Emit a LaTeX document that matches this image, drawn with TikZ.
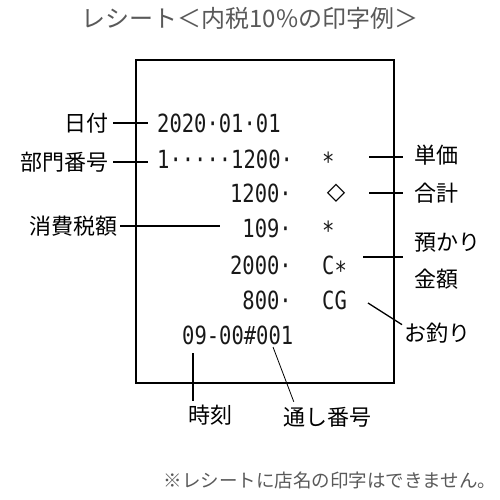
\documentclass[tikz,border=0pt]{standalone}
\usepackage{fontspec}
\usepackage{graphicx}
\setmainfont{Noto Sans CJK JP}
\newfontfamily\rcptfont{DejaVu Sans Mono}
\newfontfamily\symfont{DejaVu Sans}
\newcommand{\rc}[1]{\scalebox{0.82}[1]{#1}}

\begin{document}
\begin{tikzpicture}[x=1pt, y=-1pt,
  lbl/.style = {font=\fontsize{22}{26}\selectfont, inner sep=0pt},
  rtxt/.style = {font=\rcptfont\fontsize{25}{25}\selectfont, inner sep=0pt, text=black!90},
  lead/.style = {line width=1.3pt}]
\useasboundingbox (0,0) rectangle (500,500);

% Title
\node[font=\fontsize{24}{28}\selectfont, text=black!65] (title) at (250,18) {レシート＜内税10\%の印字例＞};

% Receipt
\draw[line width=1.7pt] (136,60) rectangle (394,383);

% Printed lines
\node[rtxt, anchor=west] (date) at (157,123) {\rc{2020·01·01}};
\node[rtxt, anchor=west] (dept) at (157,159) {\rc{1·····1200·}};
\node[rtxt, anchor=east] (sub)  at (292,193) {\rc{1200·}};
\node[rtxt, anchor=east] (tax)  at (292,228) {\rc{109·}};
\node[rtxt, anchor=east] (paid) at (292,265) {\rc{2000·}};
\node[rtxt, anchor=east] (chg)  at (292,300) {\rc{800·}};
\node[rtxt, anchor=west] (time) at (182,335) {\rc{09-00\#001}};

\node[rtxt, anchor=west] (ast1) at (322,159) {\rc{∗}};
\node[font=\symfont\fontsize{24}{24}\selectfont, inner sep=0pt] (dia) at (336,193) {◇};
\node[rtxt, anchor=west] (ast2) at (322,228) {\rc{∗}};
\node[rtxt, anchor=west] (cast) at (322,265) {\rc{C∗}};
\node[rtxt, anchor=west] (cg)   at (322,300) {\rc{CG}};

% Labels
\node[lbl, anchor=east, inner xsep=4pt] (lbl-date) at (113,123) {日付};
\node[lbl, anchor=east, inner xsep=4pt] (lbl-dept) at (113,162) {部門番号};
\node[lbl, anchor=east, inner xsep=2pt] (lbl-tax)  at (120,226) {消費税額};
\node[lbl, anchor=west, inner xsep=11pt] (lbl-unit)  at (403,155) {単価};
\node[lbl, anchor=west, inner xsep=11pt] (lbl-total) at (403,193) {合計};
\node[lbl, anchor=west, inner xsep=11pt, align=left] (lbl-paid) at (403,261) {預かり\\[11pt]金額};
\node[lbl, anchor=west] (lbl-chg)    at (404,333) {お釣り};
\node[lbl] (lbl-time)   at (210,415) {時刻};
\node[lbl] (lbl-serial) at (327,417) {通し番号};

% Leader ends
\coordinate (date-tip)   at (148,123);
\coordinate (dept-tip)   at (148,162);
\coordinate (tax-tip)    at (220,226);
\coordinate (unit-tip)   at (369,157);
\coordinate (total-tip)  at (369,193);
\coordinate (paid-tip)   at (363,257);
\coordinate (chg-tip)    at (368,303);
\coordinate (time-tip)   at (193,353);
\coordinate (serial-tip) at (273,347);

% Leaders
\draw[lead] (lbl-date.east) -- (date-tip);
\draw[lead] (lbl-dept.east) -- (dept-tip);
\draw[lead] (lbl-tax.east) -- (tax-tip);
\draw[lead] (unit-tip) -- (lbl-unit.west |- unit-tip);
\draw[lead] (total-tip) -- (lbl-total.west);
\draw[lead] (paid-tip) -- (lbl-paid.west |- paid-tip);
\draw[lead] (chg-tip) -- ([xshift=-2pt, yshift=-2pt]lbl-chg.north west);
\draw[lead] (time-tip) -- ([yshift=4pt]lbl-time.north -| time-tip);
\draw[line width=0.8pt] (serial-tip) -- ([xshift=11pt, yshift=5pt]lbl-serial.north west);

% Note
\node[font=\fontsize{18.5}{22}\selectfont, text=black!65, anchor=west] (note) at (160,480) {※レシートに店名の印字はできません。};
\end{tikzpicture}
\end{document}
